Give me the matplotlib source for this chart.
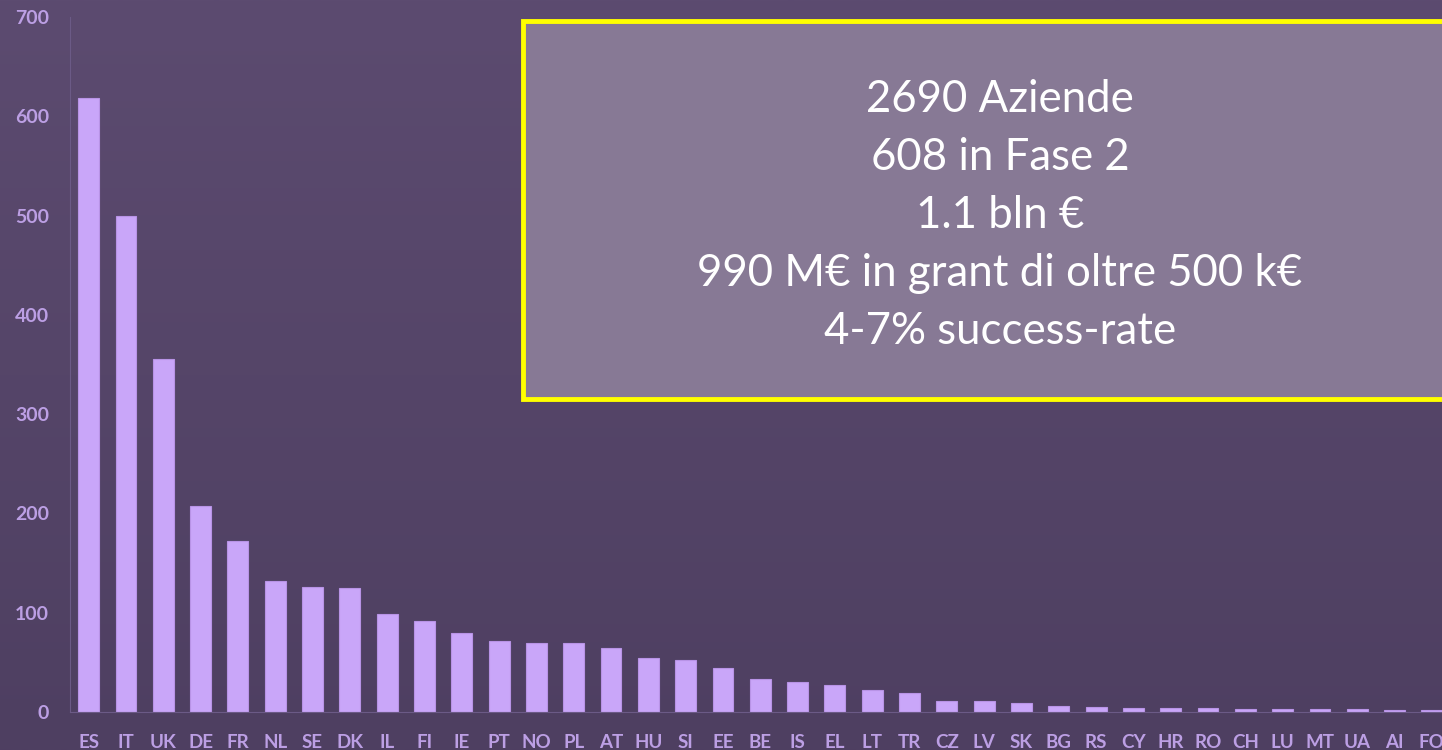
import matplotlib.pyplot as plt
import numpy as np
from matplotlib.patches import Rectangle

countries = ["ES", "IT", "UK", "DE", "FR", "NL", "SE", "DK", "IL", "FI", "IE", "PT",
             "NO", "PL", "AT", "HU", "SI", "EE", "BE", "IS", "EL", "LT", "TR", "CZ",
             "LV", "SK", "BG", "RS", "CY", "HR", "RO", "CH", "LU", "MT", "UA", "AI", "FO"]
companies = [618, 500, 356, 207, 172, 132, 126, 125, 99, 92, 80, 72,
             69, 69, 64, 54, 52, 44, 33, 30, 27, 22, 19, 11,
             11, 9, 6, 5, 4.5, 4.5, 4.5, 3, 3, 3, 3, 2, 2]
box_lines = ["2690 Aziende", "608 in Fase 2", "1.1 bln €",
             "990 M€ in grant di oltre 500 k€", "4-7% success-rate"]

W, H = 1442, 750
fig = plt.figure(figsize=(W / 100, H / 100), dpi=100)

# background gradient
bg = fig.add_axes([0, 0, 1, 1])
top = np.array([92, 75, 112]) / 255
bot = np.array([78, 63, 97]) / 255
t = np.linspace(0, 1, 256)[:, None]
grad = top * (1 - t)[:, :, None] + bot * t[:, :, None]
bg.imshow(grad, aspect="auto", extent=[0, 1, 0, 1])
bg.axis("off")

# plot axes: y=0 at px 712, y=700 at px 17 ; x from px 70 to edge
ax = fig.add_axes([70 / W, (H - 712) / H, (W - 70) / W, (712 - 17) / H])
ax.patch.set_alpha(0)
x = np.arange(len(countries))
ax.bar(x, companies, width=0.56, color="#c9a6f9", edgecolor="#b893e6", linewidth=0.8, zorder=2)
ax.set_ylim(0, 700)
ax.set_xlim(-0.5, 36.27)
ax.set_yticks(range(0, 701, 100))
ax.set_xticks(x)
ax.set_xticklabels(countries)
lab = "#bc9fe4"
ax.tick_params(axis="y", length=0, pad=15, labelsize=14, labelcolor=lab)
ax.tick_params(axis="x", length=0, pad=16, labelsize=13.5, labelcolor=lab)
for s in ["top", "right"]:
    ax.spines[s].set_visible(False)
ax.spines["left"].set_color("#6b5a86")
ax.spines["bottom"].set_color("#6b5a86")
for tl in ax.get_xticklabels() + ax.get_yticklabels():
    tl.set_fontfamily("Lato")
    tl.set_fontweight("bold")

# info box
ov = fig.add_axes([0, 0, 1, 1])
ov.set_xlim(0, W)
ov.set_ylim(H, 0)
ov.axis("off")
ov.add_patch(Rectangle((523, 21), 1000, 378, facecolor="#877995",
                       edgecolor="#ffff00", linewidth=3.5))
for i, s in enumerate(box_lines):
    ov.text(1000, 99 + i * 58, s, ha="center", va="center", color="white",
            fontsize=31.5, family="Lato")

fig.savefig("out.png", dpi=100)
